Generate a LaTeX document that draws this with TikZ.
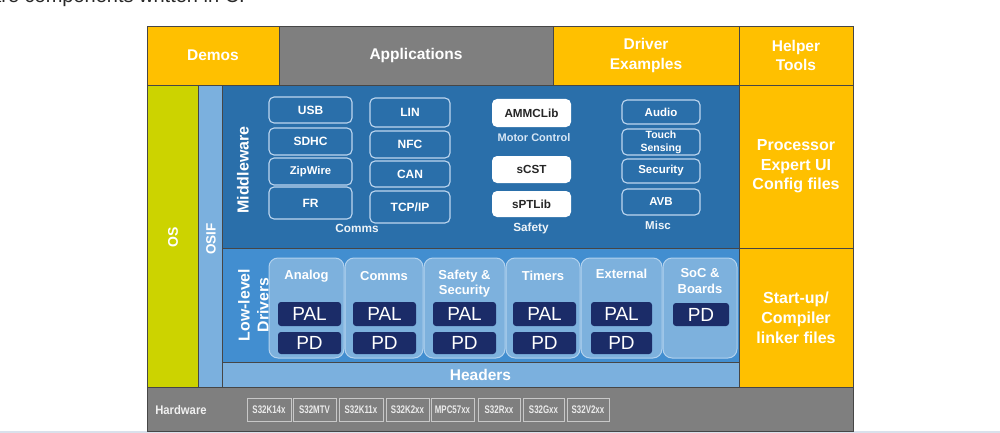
\documentclass[tikz,border=0pt]{standalone}
\usepackage{fontspec}
\setmainfont{Liberation Sans}
\usepackage{graphicx}
\definecolor{ylw}{RGB}{255,192,0}
\definecolor{gry}{RGB}{127,127,127}
\definecolor{osg}{RGB}{204,211,0}
\definecolor{ltb}{RGB}{123,176,222}
\definecolor{mwb}{RGB}{42,111,170}
\definecolor{llb}{RGB}{66,142,208}
\definecolor{cardb}{RGB}{125,177,221}
\definecolor{cardl}{RGB}{178,210,238}
\definecolor{navy}{RGB}{27,44,104}
\definecolor{edge}{RGB}{70,70,70}
\definecolor{pale}{RGB}{214,230,245}
\definecolor{mwline}{RGB}{190,215,240}
\definecolor{chipl}{RGB}{200,200,200}
\definecolor{strip}{RGB}{218,225,236}
\definecolor{toptext}{RGB}{40,40,40}
\tikzset{
  cell/.style={draw=edge, line width=0.9pt, inner sep=0pt, text=white, align=center,
    font=\fontsize{15.5}{19.3}\selectfont\bfseries},
  sidelabel/.style={inner sep=0pt, text=white, align=center, rotate=90,
    font=\fontsize{15.5}{19}\selectfont\bfseries},
  mwbox/.style={draw=mwline, line width=1.1pt, rounded corners=5pt, inner sep=0pt,
    text=white, font=\fontsize{12}{13}\selectfont\bfseries, align=center},
  libbox/.style={fill=white, rounded corners=5pt, inner sep=0pt,
    text=black!85, font=\fontsize{11.7}{13}\selectfont\bfseries},
  grouplabel/.style={inner sep=0pt, text=pale, font=\fontsize{11.5}{13}\selectfont\bfseries},
  card/.style={fill=cardb, draw=cardl, line width=1pt, rounded corners=9pt, inner sep=0pt},
  cardtitle/.style={inner sep=0pt, text=white, align=center,
    font=\fontsize{13}{15.5}\selectfont\bfseries},
  palbox/.style={fill=navy, rounded corners=3pt, inner sep=0pt, text=white,
    font=\fontsize{19}{20}\selectfont},
  chip/.style={draw=chipl, line width=0.9pt, inner sep=0pt, text=white!92!black,
    font=\fontsize{11}{12}\selectfont\bfseries, minimum height=23},
}
\begin{document}
\begin{tikzpicture}[x=1pt, y=-1pt]
\useasboundingbox (0,0) rectangle (1000,433);
\clip (0,0) rectangle (1000,433);
\fill[white] (0,0) rectangle (1000,433);
% cut-off line of text above the figure
\node[anchor=base east, inner sep=0pt, text=toptext, font=\fontsize{20}{22}\selectfont] (toptxt) at (245,3) {software components written in C.};
\fill[strip] (0,430.5) rectangle (1000,433);

% top row
\node[cell, fill=ylw, minimum width=132, minimum height=59] (demos) at (213,55.5) {Demos};
\node[cell, fill=gry, minimum width=274, minimum height=59] (apps) at (416,55.5) {Applications};
\node[cell, fill=ylw, minimum width=186, minimum height=59] (drvex) at (646,55.5) {Driver\\Examples};
\node[cell, fill=ylw, minimum width=114, minimum height=59] (helper) at (796,55.5) {Helper\\Tools};

% left columns
\node[cell, fill=osg, minimum width=51, minimum height=302] (os) at (172.5,236) {};
\node[sidelabel, font=\fontsize{14}{16}\selectfont\bfseries] (oslbl) at (173,237) {OS};
\node[cell, fill=ltb, minimum width=24, minimum height=302] (osif) at (210,236) {};
\node[sidelabel, font=\fontsize{13.5}{16}\selectfont\bfseries] (osiflbl) at (211,239) {OSIF};

% main blocks
\node[cell, fill=mwb, minimum width=517, minimum height=163] (mw) at (480.5,166.5) {};
\node[cell, fill=llb, minimum width=517, minimum height=114] (lld) at (480.5,305) {};
\node[cell, fill=ltb, minimum width=517, minimum height=25] (hdr) at (480.5,374.5) {Headers};
\node[cell, fill=ylw, minimum width=114, minimum height=163, font=\fontsize{16}{19.5}\selectfont\bfseries] (pe) at (796,166.5) {Processor\\Expert UI\\Config files};
\node[cell, fill=ylw, minimum width=114, minimum height=139, font=\fontsize{16}{20}\selectfont\bfseries] (su) at (796,317.5) {Start-up/\\Compiler\\linker files};
\node[cell, fill=gry, minimum width=706, minimum height=44] (hw) at (500,409) {};

% middleware
\node[sidelabel, font=\fontsize{16}{19}\selectfont\bfseries] (mwlbl) at (243,170) {Middleware};
\node[mwbox, minimum width=83, minimum height=26] (usb) at (310.5,110) {USB};
\node[mwbox, minimum width=83, minimum height=27] (sdhc) at (310.5,141.5) {SDHC};
\node[mwbox, minimum width=83, minimum height=27, font=\fontsize{11.3}{13}\selectfont\bfseries] (zip) at (310.5,171.5) {ZipWire};
\node[mwbox, minimum width=83, minimum height=32] (fr) at (310.5,203) {FR};
\node[mwbox, minimum width=80, minimum height=29] (lin) at (410,112.5) {LIN};
\node[mwbox, minimum width=80, minimum height=27] (nfc) at (410,144.5) {NFC};
\node[mwbox, minimum width=80, minimum height=26] (can) at (410,174) {CAN};
\node[mwbox, minimum width=80, minimum height=32] (tcp) at (410,207) {TCP/IP};
\node[grouplabel, text=white!92!mwb, font=\fontsize{11.8}{13}\selectfont\bfseries] (commslbl) at (357,228) {Comms};

\node[libbox, minimum width=79, minimum height=28] (ammc) at (531.5,113) {AMMCLib};
\node[grouplabel, font=\fontsize{11}{13}\selectfont\bfseries] (motorlbl) at (534,138) {Motor Control};
\node[libbox, minimum width=79, minimum height=27] (scst) at (531.5,169.5) {sCST};
\node[libbox, minimum width=79, minimum height=26] (sptl) at (531.5,204) {sPTLib};
\node[grouplabel, text=white!92!mwb, font=\fontsize{11.8}{13}\selectfont\bfseries] (safetylbl) at (531,228) {Safety};

\node[mwbox, minimum width=78, minimum height=24, font=\fontsize{11.5}{13}\selectfont\bfseries] (audio) at (661,112) {Audio};
\node[mwbox, minimum width=78, minimum height=26, font=\fontsize{10.5}{13}\selectfont\bfseries] (touch) at (661,142) {Touch\\Sensing};
\node[mwbox, minimum width=78, minimum height=24, font=\fontsize{11.5}{13}\selectfont\bfseries] (secu) at (661,171) {Security};
\node[mwbox, minimum width=78, minimum height=26, font=\fontsize{11.5}{13}\selectfont\bfseries] (avb) at (661,202) {AVB};
\node[grouplabel, text=white!92!mwb, font=\fontsize{11.5}{13}\selectfont\bfseries] (misclbl) at (658,225) {Misc};

% low-level drivers
\node[sidelabel, font=\fontsize{15.8}{19}\selectfont\bfseries] (lldlbl) at (253.5,305) {Low-level\\Drivers};
\node[card, minimum width=75, minimum height=100] (c1) at (306.5,308) {};
\node[card, minimum width=78, minimum height=100] (c2) at (384,308) {};
\node[card, minimum width=81, minimum height=100] (c3) at (464.5,308) {};
\node[card, minimum width=74, minimum height=100] (c4) at (543,308) {};
\node[card, minimum width=81, minimum height=100] (c5) at (621.5,308) {};
\node[card, minimum width=74, minimum height=100] (c6) at (700,308) {};
\node[cardtitle] (t1) at (306.5,276) {Analog};
\node[cardtitle] (t2) at (384,276) {Comms};
\node[cardtitle] (t3) at (464.5,283.5) {Safety \&\\Security};
\node[cardtitle] (t4) at (543,276) {Timers};
\node[cardtitle] (t5) at (621.5,274) {External};
\node[cardtitle] (t6) at (700,281) {SoC \&\\Boards};
\node[palbox, minimum width=63, minimum height=24] (pal1) at (309.5,314) {PAL};
\node[palbox, minimum width=63, minimum height=22] (pd1) at (309.5,343) {PD};
\node[palbox, minimum width=63, minimum height=24] (pal2) at (384.5,314) {PAL};
\node[palbox, minimum width=63, minimum height=22] (pd2) at (384.5,343) {PD};
\node[palbox, minimum width=63, minimum height=24] (pal3) at (464.5,314) {PAL};
\node[palbox, minimum width=63, minimum height=22] (pd3) at (464.5,343) {PD};
\node[palbox, minimum width=63, minimum height=24] (pal4) at (544.5,314) {PAL};
\node[palbox, minimum width=63, minimum height=22] (pd4) at (544.5,343) {PD};
\node[palbox, minimum width=61, minimum height=24] (pal5) at (621.5,314) {PAL};
\node[palbox, minimum width=61, minimum height=22] (pd5) at (621.5,343) {PD};
\node[palbox, minimum width=56, minimum height=23] (pd6) at (701,314.5) {PD};

% hardware
\node[inner sep=0pt, text=white!94!black, font=\fontsize{12.5}{14}\selectfont\bfseries] (hwlbl) at (181,410) {\scalebox{0.9}[1]{Hardware}};
\node[chip, minimum width=44] (k14) at (269,409.5) {\scalebox{0.72}[1]{S32K14x}};
\node[chip, minimum width=43] (mtv) at (314.5,409.5) {\scalebox{0.72}[1]{S32MTV}};
\node[chip, minimum width=44] (k11) at (361,409.5) {\scalebox{0.72}[1]{S32K11x}};
\node[chip, minimum width=43] (k2) at (407.5,409.5) {\scalebox{0.72}[1]{S32K2xx}};
\node[chip, minimum width=43] (mpc) at (452.5,409.5) {\scalebox{0.72}[1]{MPC57xx}};
\node[chip, minimum width=42] (rxx) at (499,409.5) {\scalebox{0.72}[1]{S32Rxx}};
\node[chip, minimum width=41] (gxx) at (543.5,409.5) {\scalebox{0.72}[1]{S32Gxx}};
\node[chip, minimum width=42] (v2) at (588,409.5) {\scalebox{0.72}[1]{S32V2xx}};
\end{tikzpicture}
\end{document}
